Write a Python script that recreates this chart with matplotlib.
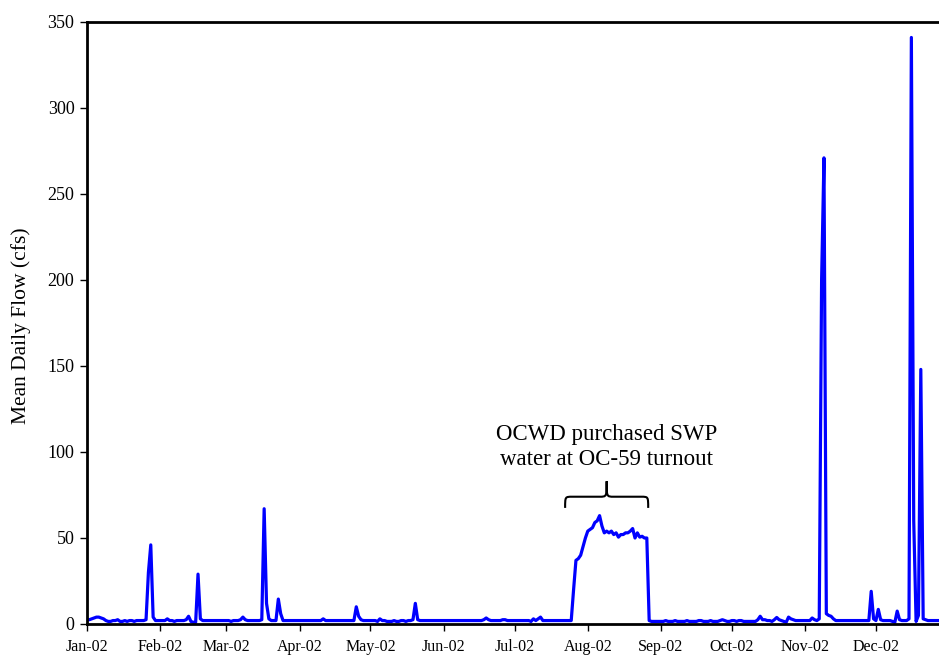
import numpy as np
import pandas as pd
import matplotlib
matplotlib.use('Agg')
from matplotlib import pyplot as plt
import matplotlib.dates as mdates
from matplotlib.path import Path
from matplotlib.patches import PathPatch

# mean daily flow (cfs), one list per month
jan = [2.5, 2.5, 3, 3.5, 4, 4, 3.5, 3, 2, 1.5, 1.5, 2, 2, 2.5, 1.5, 1.5, 2, 1.5, 2, 2,
       1.5, 2, 2, 2, 2, 2.5, 30, 46, 4, 2, 2]
feb = [2, 2, 2, 3, 2, 2, 1.5, 2, 2, 2, 2, 2.5, 4.5, 1.5, 1, 1, 29, 3, 2, 2,
       2, 2, 2, 2, 2, 2, 2, 2]
mar = [2, 2, 1.5, 2, 2, 2, 2.5, 4, 2.5, 2, 2, 2, 2, 2, 2, 2.5, 67, 12, 3, 2,
       2, 2, 14.5, 6, 2, 2, 2, 2, 2, 2, 2]
apr = [2, 2, 2, 2, 2, 2, 2, 2, 2, 2, 3, 2, 2, 2, 2, 2, 2, 2, 2, 2,
       2, 2, 2, 2, 10, 4.5, 2.5, 2, 2, 2]
may = [2, 2, 2, 1.5, 3, 2, 2, 1.5, 1.5, 1.5, 2, 1.5, 1.5, 2, 2, 1.5, 2, 2, 2.5, 12,
       2.5, 2, 2, 2, 2, 2, 2, 2, 2, 2, 2]
jun = [2, 2, 2, 2, 2, 2, 2, 2, 2, 2, 2, 2, 2, 2, 2, 2, 2, 2.5, 3.5, 2.5,
       2, 2, 2, 2, 2, 2.5, 2.5, 2, 2, 2]
jul = [2, 2, 2, 2, 2, 2, 2, 1.5, 3, 2, 3, 4, 2, 2, 2, 2, 2, 2, 2, 2,
       2, 2, 2, 2, 2, 20, 37, 38, 40, 45, 50]
aug = [54, 55, 56, 59, 60, 63, 57, 53, 54, 53, 54, 52, 53, 50.5, 52, 52, 53, 53, 54, 55.5,
       50, 53, 50.5, 51, 50, 50, 2, 1.5, 1.5, 1.5, 1.5]
sep = [1.5, 1.5, 2, 1.5, 1.5, 1.5, 2, 1.5, 1.5, 1.5, 1.5, 2, 1.5, 1.5, 1.5, 1.5, 2, 2, 1.5, 1.5,
       1.5, 2, 1.5, 1.5, 1.5, 2, 2.5, 2, 1.5, 1.5]
oct_ = [2, 2, 1.5, 2, 2, 1.5, 1.5, 1.5, 1.5, 1.5, 1.5, 2.5, 4.5, 2.5, 2.5, 2, 2, 1.5, 2.5, 3.8,
        2.5, 2, 1.5, 1, 4, 3, 2.5, 2, 2, 2, 2]
nov = [2, 2, 2, 3.5, 2.5, 2, 3, 200, 271, 6, 5, 4.5, 3, 2, 2, 2, 2, 2, 2, 2,
       2, 2, 2, 2, 2, 2, 2, 2, 19, 3]
dec = [2, 8.5, 2.5, 2, 2, 2, 2, 1.5, 1, 7.5, 2.5, 2, 2, 2, 3, 341, 60, 1.5, 5, 148,
       3, 2.5, 2, 2, 2, 2, 2, 2]

flow = jan + feb + mar + apr + may + jun + jul + aug + sep + oct_ + nov + dec
dates = pd.date_range('2002-01-01', periods=len(flow), freq='D')

note_text = 'OCWD purchased SWP\nwater at OC-59 turnout'
brace_start = pd.Timestamp('2002-07-22 10:00')
brace_end = pd.Timestamp('2002-08-26 14:00')

plt.rcParams['font.family'] = ['Liberation Serif', 'DejaVu Serif']

fig = plt.figure(figsize=(9.39, 6.56), dpi=100)
ax = fig.add_axes([87 / 939, 32 / 656, (939 - 87) / 939, (624 - 22) / 656])

ax.plot(dates, flow, color='#0000ff', lw=2.3, solid_joinstyle='round')

ax.set_ylim(0, 350)
ax.set_yticks(range(0, 351, 50))
ax.set_xlim(pd.Timestamp('2002-01-01'), pd.Timestamp('2002-01-01') + pd.Timedelta(days=360.7))
ax.xaxis.set_major_locator(mdates.MonthLocator())
ax.xaxis.set_major_formatter(mdates.DateFormatter('%b-%y'))

ax.spines['right'].set_visible(False)
for s in ['left', 'top', 'bottom']:
    ax.spines[s].set_linewidth(2)
ax.tick_params(axis='y', direction='out', length=5, width=1, labelsize=13, pad=4)
ax.tick_params(axis='x', direction='out', length=5, width=1, labelsize=11.5, pad=6)
ax.set_ylabel('Mean Daily Flow (cfs)', fontsize=15.5)
ax.yaxis.set_label_coords(-0.066, 0.495)

# brace over the purchase period
x0 = mdates.date2num(brace_start)
x1 = mdates.date2num(brace_end)
xm = (x0 + x1) / 2
yb, ymid, yt = 67.5, 74, 83
r = 3
verts = [(x0, yb), (x0, ymid), (x0, ymid), (x0 + r, ymid),
         (xm - r, ymid),
         (xm, ymid), (xm, ymid), (xm, yt),
         (xm, ymid), (xm, ymid), (xm + r, ymid),
         (x1 - r, ymid),
         (x1, ymid), (x1, ymid), (x1, yb)]
codes = [Path.MOVETO, Path.CURVE4, Path.CURVE4, Path.CURVE4,
         Path.LINETO,
         Path.CURVE4, Path.CURVE4, Path.CURVE4,
         Path.CURVE4, Path.CURVE4, Path.CURVE4,
         Path.LINETO,
         Path.CURVE4, Path.CURVE4, Path.CURVE4]
ax.add_patch(PathPatch(Path(verts, codes), fill=False, lw=1.5, color='black'))

ax.text(xm, 103, note_text, ha='center', va='center', fontsize=16.5, linespacing=1.22)

fig.savefig('out.png', dpi=100)
